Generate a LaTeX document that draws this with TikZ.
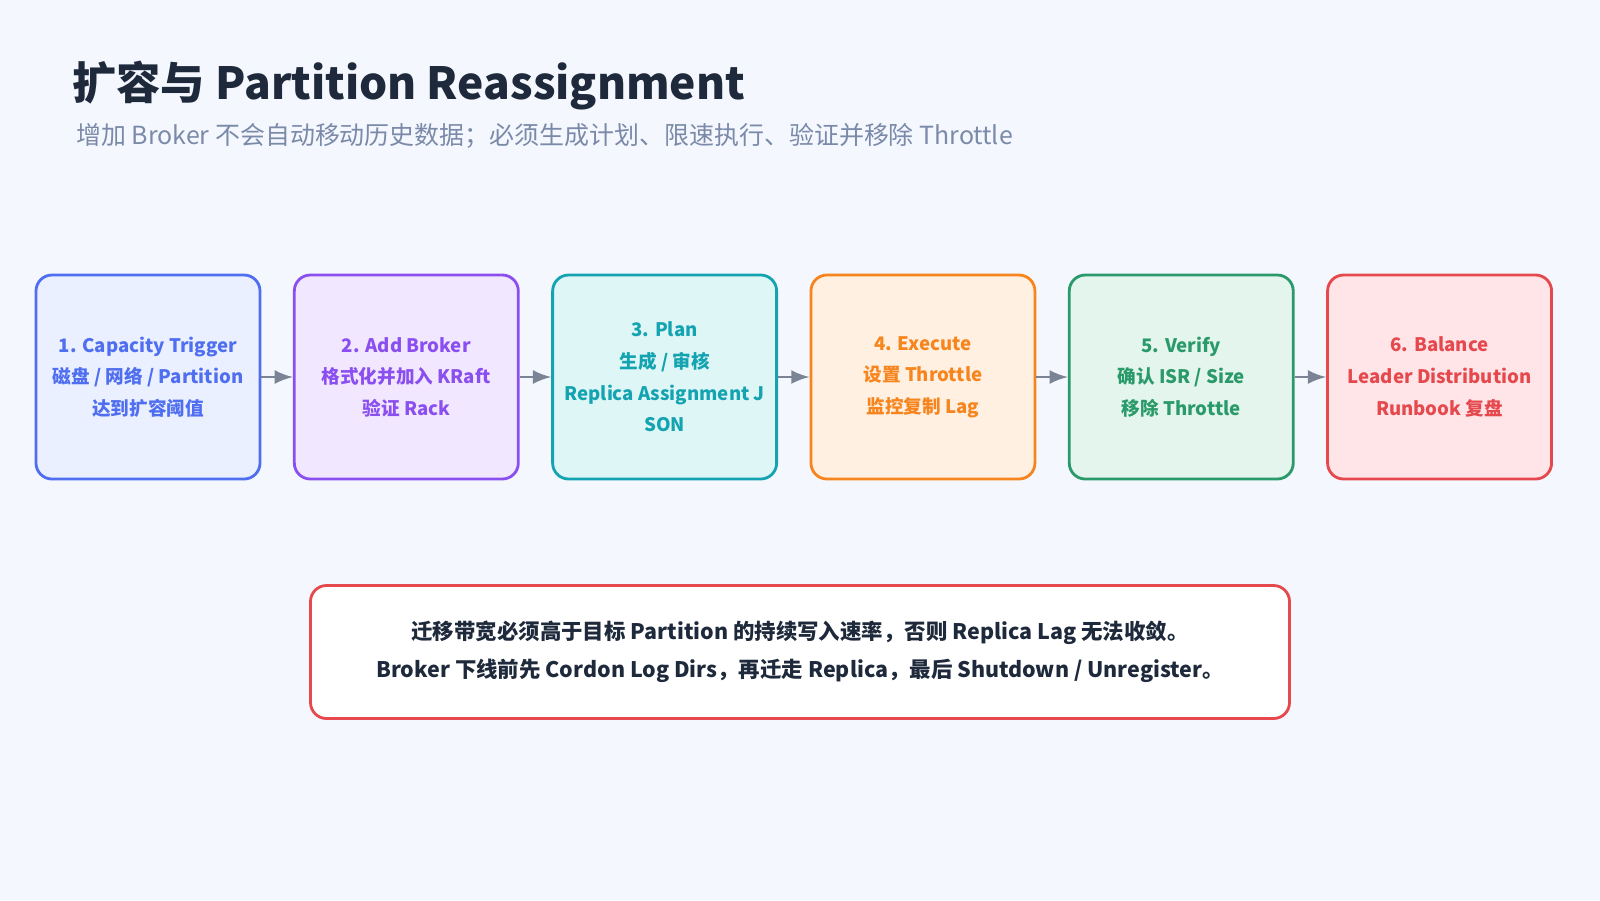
\documentclass[tikz,border=0pt]{standalone}
\usepackage{fontspec}
\setmainfont{Noto Sans CJK SC}
\usetikzlibrary{positioning}
\definecolor{bgc}{HTML}{F4F7FE}
\definecolor{titlec}{HTML}{1E2A3B}
\definecolor{subc}{HTML}{7A8AA8}
\definecolor{arrc}{HTML}{7A8494}
\definecolor{blueL}{HTML}{4F6EF0}\definecolor{blueF}{HTML}{EAF0FF}
\definecolor{purpL}{HTML}{8B4FF0}\definecolor{purpF}{HTML}{F1E8FF}
\definecolor{tealL}{HTML}{14A3B0}\definecolor{tealF}{HTML}{DFF6F7}
\definecolor{oranL}{HTML}{F7851E}\definecolor{oranF}{HTML}{FFF0E2}
\definecolor{grenL}{HTML}{2A9A6A}\definecolor{grenF}{HTML}{E3F5EC}
\definecolor{redL}{HTML}{E5484D}\definecolor{redF}{HTML}{FFE5E8}
\begin{document}
\begin{tikzpicture}[
	step/.style={draw=#1L, fill=#1F, text=#1L, line width=0.8pt, rounded corners=0.16cm,
		minimum width=2.24cm, minimum height=2.04cm, inner sep=0pt, align=center,
		font=\fontsize{5.3}{9}\selectfont\bfseries},
	flow/.style={arrc, line width=0.8pt, -latex},
	node distance=0.315cm]
	\fill[bgc] (0,0) rectangle (16,-9);
	\useasboundingbox (0,0) rectangle (16,-9);
	% title
	\node[anchor=west, text=titlec, font=\fontsize{12.6}{15}\selectfont\bfseries] (title) at (0.6,-0.86) {扩容与 Partition Reassignment};
	\node[anchor=west, text=subc, font=\fontsize{7.1}{9}\selectfont] (sub) at (0.64,-1.36) {增加 Broker 不会自动移动历史数据；必须生成计划、限速执行、验证并移除 Throttle};
	% steps
	\node[step=blue] (s1) at (1.48,-3.77) {1. Capacity Trigger\\磁盘 / 网络 / Partition\\达到扩容阈值};
	\node[step=purp, right=of s1] (s2) {2. Add Broker\\格式化并加入 KRaft\\验证 Rack};
	\node[step=teal, right=of s2] (s3) {3. Plan\\生成 / 审核\\Replica Assignment J\\SON};
	\node[step=oran, right=of s3] (s4) {4. Execute\\设置 Throttle\\监控复制 Lag};
	\node[step=gren, right=of s4] (s5) {5. Verify\\确认 ISR / Size\\移除 Throttle};
	\node[step=red, right=of s5] (s6) {6. Balance\\Leader Distribution\\Runbook 复盘};
	\foreach \a/\b in {s1/s2,s2/s3,s3/s4,s4/s5,s5/s6}
		\draw[flow] (\a) -- (\b);
	% note
	\node[draw=redL, fill=white, line width=0.8pt, rounded corners=0.16cm,
		minimum width=9.79cm, minimum height=1.33cm, align=center, text=titlec,
		font=\fontsize{6.1}{10.8}\selectfont\bfseries] (note) at (8.0,-6.52)
		{迁移带宽必须高于目标 Partition 的持续写入速率，否则 Replica Lag 无法收敛。\\Broker 下线前先 Cordon Log Dirs，再迁走 Replica，最后 Shutdown / Unregister。};
\end{tikzpicture}
\end{document}
